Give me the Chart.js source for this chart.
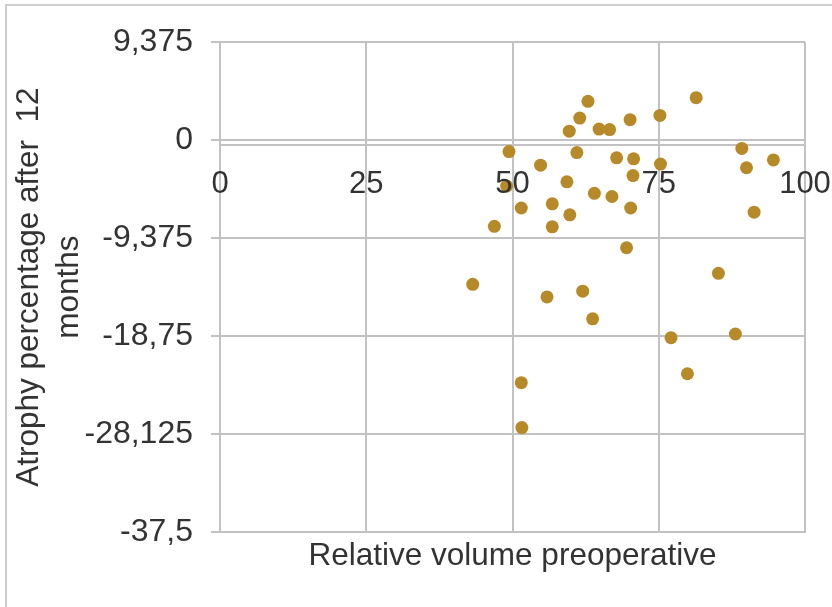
<!DOCTYPE html>
<html>
<head>
<meta charset="utf-8">
<script src="https://cdn.jsdelivr.net/npm/chart.js@4"></script>
<style>
    html, body { margin: 0; padding: 0; background: #fff; }
    #wrap { position: relative; width: 832px; height: 607px; overflow: hidden; }
    #frame {
        position: absolute; left: 5px; top: 4px; width: 900px; height: 700px;
        border-left: 2px solid #cdcdcd; border-top: 2px solid #cdcdcd;
    }
    #chart { position: absolute; left: 0; top: 0; }
</style>
</head>
<body>
<div id="wrap">
    <div id="frame"></div>
    <canvas id="chart" width="832" height="607"></canvas>
</div>
<script>
const xValues = [43.2, 46.9, 49.4, 49.0, 51.5, 51.5, 51.6, 54.8, 55.9, 56.8,
    56.8, 59.3, 59.7, 59.8, 61.0, 61.5, 62.0, 62.9, 63.7, 64.0,
    64.8, 66.6, 67.0, 67.8, 69.5, 70.1, 70.2, 70.6, 70.7, 75.2,
    75.3, 77.1, 79.9, 81.4, 85.2, 88.1, 89.2, 90.0, 91.3, 94.6];
const yValues = [-13.8, -8.25, -1.1, -4.4, -6.5, -23.2, -27.5, -2.4, -15.0, -6.1,
    -8.3, -4.0, 0.85, -7.15, -1.2, 2.1, -14.45, 3.7, -17.1, -5.1,
    1.05, 1.0, -5.4, -1.7, -10.3, 1.95, -6.5, -3.4, -1.8, 2.35,
    -2.3, -18.9, -22.35, 4.05, -12.75, -18.55, -0.8, -2.65, -6.9, -1.9];

const xTickValues = [0, 25, 50, 75, 100];
const xTickLabels = ['0', '25', '50', '75', '100'];
const yTickValues = [-37.5, -28.125, -18.75, -9.375, 0, 9.375];
const yTickLabels = ['-37,5', '-28,125', '-18,75', '-9,375', '0', '9,375'];

const xTitle = 'Relative volume preoperative';
const yTitle = ['Atrophy percentage after  12', 'months'];

const gridColor = '#c2c2c2';
const textColor = '#333333';
const fontFamily = "'Liberation Sans', Arial, sans-serif";

const points = xValues.map((x, i) => ({ x, y: yValues[i] }));

function setTicks(values) {
    return scale => {
        scale.ticks = values.map(v => ({ value: v }));
    };
}

const ctx = document.getElementById('chart').getContext('2d');

new Chart(ctx, {
    type: 'scatter',
    data: {
        datasets: [{
            data: points,
            backgroundColor: '#b78a29',
            borderColor: '#b78a29',
            pointRadius: 6.5,
            pointBorderWidth: 0
        }]
    },
    options: {
        responsive: false,
        animation: false,
        layout: {
            padding: { left: 0, top: 42, right: 27, bottom: 28 }
        },
        plugins: {
            legend: { display: false },
            tooltip: { enabled: false }
        },
        scales: {
            x: {
                type: 'linear',
                position: 'bottom',
                min: 0,
                max: 100,
                afterBuildTicks: setTicks(xTickValues),
                afterFit: scale => { scale.paddingLeft = 0; scale.paddingRight = 0; },
                ticks: { display: false },
                grid: { color: gridColor, lineWidth: 2, drawTicks: false },
                border: { color: gridColor, width: 2 },
                title: {
                    display: true,
                    text: xTitle,
                    color: textColor,
                    font: { family: fontFamily, size: 31.5 },
                    padding: { top: 5, bottom: 4 }
                }
            },
            x2: {
                type: 'linear',
                position: { y: -0.45 },
                min: 0,
                max: 100,
                afterBuildTicks: setTicks(xTickValues),
                // labels may run past the plot edge, as in the original
                afterFit: scale => { scale.paddingLeft = 0; scale.paddingRight = 0; },
                grid: { display: false },
                border: { display: true, color: gridColor, width: 2 },
                ticks: {
                    z: 1,
                    padding: 13,
                    color: textColor,
                    font: { family: fontFamily, size: 31 },
                    maxRotation: 0,
                    callback: (value, index) => xTickLabels[index]
                }
            },
            y: {
                type: 'linear',
                position: 'left',
                min: -37.5,
                max: 9.375,
                afterBuildTicks: setTicks(yTickValues),
                afterFit: scale => { scale.width = 220; },
                grid: { color: gridColor, lineWidth: 2, tickLength: 9 },
                border: { color: gridColor, width: 2 },
                ticks: {
                    padding: 18,
                    color: textColor,
                    font: { family: fontFamily, size: 32 },
                    callback: (value, index) => yTickLabels[index]
                },
                title: {
                    display: true,
                    text: yTitle,
                    color: textColor,
                    font: { family: fontFamily, size: 31.5, lineHeight: 1.25 },
                    padding: { top: 10, bottom: 0 }
                }
            }
        }
    }
});
</script>
</body>
</html>
